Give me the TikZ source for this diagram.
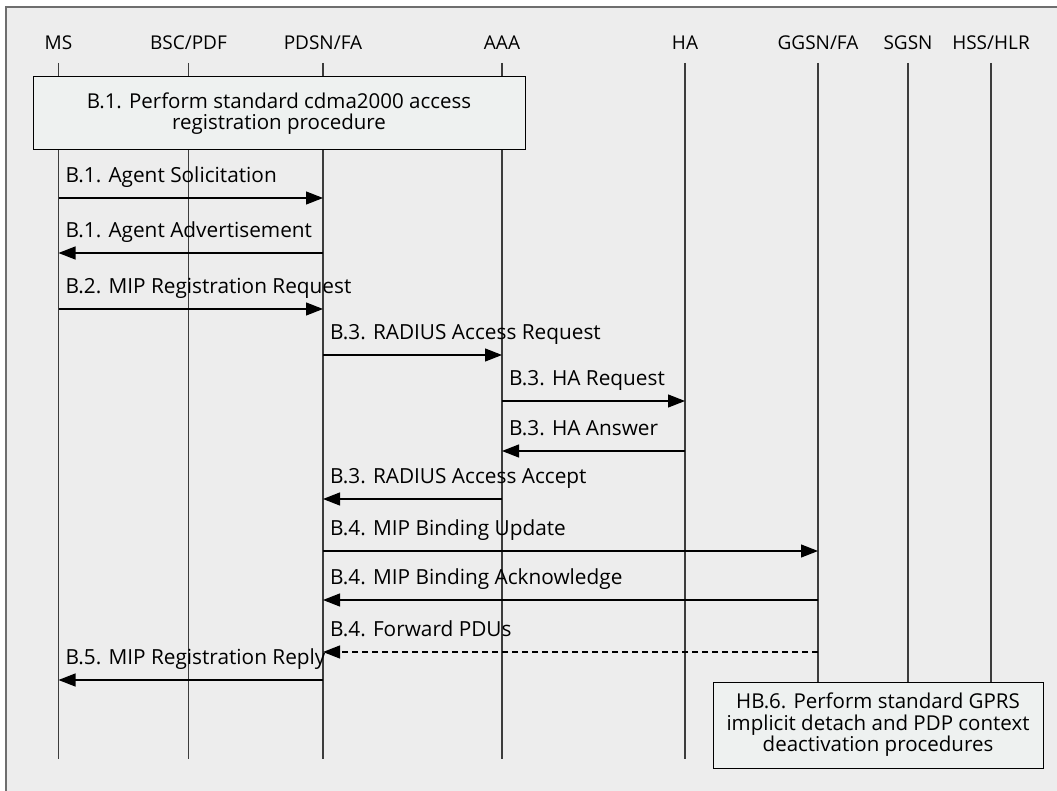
\documentclass[tikz,border=0pt]{standalone}
\usepackage{fontspec}
\setmainfont{Open Sans}
\usetikzlibrary{arrows.meta}
\definecolor{panel}{HTML}{EDEDED}
\definecolor{boxfill}{HTML}{EEF1F0}
\definecolor{framecol}{HTML}{6E6E6E}
\definecolor{lifecol}{HTML}{3C3C3C}
\tikzset{
  head/.style={font=\fontsize{19}{22}\selectfont, inner sep=0pt, anchor=base},
  lifeline/.style={draw=lifecol, line width=1.4pt},
  msgline/.style={draw=black, line width=1.2pt, -{Triangle[length=17pt,width=13pt]}},
  msgdash/.style={msgline, dash pattern=on 6pt off 4pt},
  msglabel/.style={font=\fontsize{20.8}{24}\selectfont, inner sep=0pt, anchor=base west},
  procbox/.style={font=\fontsize{20.5}{21.5}\selectfont, draw=black, line width=1pt,
                  fill=boxfill, align=center}
}
% one signalling message: name, x from, x to, y, label, line style
\newcommand\sigmsg[6]{%
  \coordinate (#1-a) at (#2,#4);
  \coordinate (#1-b) at (#3,#4);
  \draw[#6] (#1-a) -- (#1-b);
  \pgfmathsetmacro\labx{min(#2,#3)+7}%
  \node[msglabel] (#1-lab) at (\labx,#4-15.5) {#5};%
}
\begin{document}
\begin{tikzpicture}[x=1pt,y=-1pt]
\useasboundingbox (0,0) rectangle (1057,791);
\clip (0,0) rectangle (1057,791);
% panel
\fill[panel] (6,7) rectangle (1070,800);
\draw[framecol, line width=2pt] (6,800) -- (6,7) -- (1070,7);

% entities
\foreach \n/\x/\t in {ms/58.5/MS, bsc/188.5/BSC\slash PDF, pdsn/323/PDSN\slash FA, aaa/502/AAA,
                      ha/685/HA, ggsn/818/GGSN\slash FA, sgsn/908/SGSN, hss/991/HSS\slash HLR}{
  \node[head] (\n) at (\x,50) {\t};
  \coordinate (\n-top) at (\x,63);
  \coordinate (\n-bot) at (\x,759);
  \draw[lifeline] (\n-top) -- (\n-bot);
}

% procedure boxes
\node[procbox, minimum width=492pt, minimum height=73pt] (b1) at (279,113.5)
  {B.1. Perform standard cdma2000 access\\registration procedure};
\node[procbox, minimum width=330pt, minimum height=86pt] (hb6) at (878,725)
  {HB.6. Perform standard GPRS\\implicit detach and PDP context\\deactivation procedures};

% messages
\sigmsg{m1}{58.5}{323}{198}{B.1. Agent Solicitation}{msgline}
\sigmsg{m2}{323}{58.5}{253}{B.1. Agent Advertisement}{msgline}
\sigmsg{m3}{58.5}{323}{309}{B.2. MIP Registration Request}{msgline}
\sigmsg{m4}{323}{502}{355}{B.3. RADIUS Access Request}{msgline}
\sigmsg{m5}{502}{685}{401}{B.3. HA Request}{msgline}
\sigmsg{m6}{685}{502}{451}{B.3. HA Answer}{msgline}
\sigmsg{m7}{502}{323}{499}{B.3. RADIUS Access Accept}{msgline}
\sigmsg{m8}{323}{818}{551}{B.4. MIP Binding Update}{msgline}
\sigmsg{m9}{818}{323}{600}{B.4. MIP Binding Acknowledge}{msgline}
\sigmsg{m10}{818}{323}{652}{B.4. Forward PDUs}{msgdash}
\sigmsg{m11}{323}{58.5}{680}{B.5. MIP Registration Reply}{msgline}
\end{tikzpicture}
\end{document}
